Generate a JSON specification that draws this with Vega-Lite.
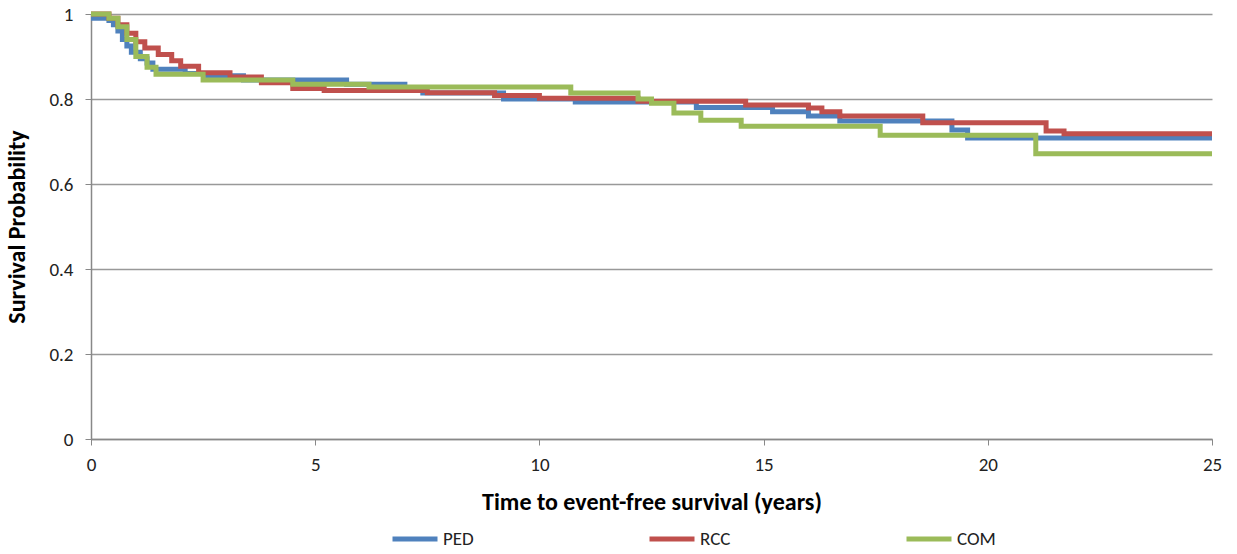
{
  "$schema": "https://vega.github.io/schema/vega-lite/v6.json",
  "width": 1121,
  "height": 425,
  "autosize": {"type": "none"},
  "padding": {"left": 91, "top": 14, "right": 25, "bottom": 115},
  "background": "white",
  "config": {
    "font": "Carlito, Liberation Sans Narrow, Roboto, sans-serif",
    "view": {"stroke": null}
  },
  "data": {
    "values": [
      {"t": 0, "s": 0.99, "g": "PED"},
      {"t": 0.4, "s": 0.985, "g": "PED"},
      {"t": 0.5, "s": 0.975, "g": "PED"},
      {"t": 0.6, "s": 0.96, "g": "PED"},
      {"t": 0.7, "s": 0.94, "g": "PED"},
      {"t": 0.8, "s": 0.925, "g": "PED"},
      {"t": 0.9, "s": 0.91, "g": "PED"},
      {"t": 1.1, "s": 0.895, "g": "PED"},
      {"t": 1.25, "s": 0.885, "g": "PED"},
      {"t": 1.38, "s": 0.87, "g": "PED"},
      {"t": 2.1, "s": 0.86, "g": "PED"},
      {"t": 2.6, "s": 0.855, "g": "PED"},
      {"t": 3.4, "s": 0.845, "g": "PED"},
      {"t": 5.7, "s": 0.835, "g": "PED"},
      {"t": 7.0, "s": 0.825, "g": "PED"},
      {"t": 7.4, "s": 0.814, "g": "PED"},
      {"t": 9.2, "s": 0.80, "g": "PED"},
      {"t": 10.8, "s": 0.793, "g": "PED"},
      {"t": 13.5, "s": 0.78, "g": "PED"},
      {"t": 15.2, "s": 0.77, "g": "PED"},
      {"t": 16.0, "s": 0.76, "g": "PED"},
      {"t": 16.7, "s": 0.748, "g": "PED"},
      {"t": 19.2, "s": 0.727, "g": "PED"},
      {"t": 19.55, "s": 0.708, "g": "PED"},
      {"t": 25, "s": 0.708, "g": "PED"},

      {"t": 0, "s": 1.0, "g": "RCC"},
      {"t": 0.4, "s": 0.99, "g": "RCC"},
      {"t": 0.6, "s": 0.975, "g": "RCC"},
      {"t": 0.8, "s": 0.955, "g": "RCC"},
      {"t": 1.0, "s": 0.935, "g": "RCC"},
      {"t": 1.2, "s": 0.92, "g": "RCC"},
      {"t": 1.5, "s": 0.905, "g": "RCC"},
      {"t": 1.8, "s": 0.89, "g": "RCC"},
      {"t": 2.0, "s": 0.877, "g": "RCC"},
      {"t": 2.4, "s": 0.862, "g": "RCC"},
      {"t": 3.1, "s": 0.852, "g": "RCC"},
      {"t": 3.8, "s": 0.838, "g": "RCC"},
      {"t": 4.5, "s": 0.825, "g": "RCC"},
      {"t": 5.2, "s": 0.82, "g": "RCC"},
      {"t": 7.5, "s": 0.815, "g": "RCC"},
      {"t": 9.0, "s": 0.808, "g": "RCC"},
      {"t": 10.0, "s": 0.802, "g": "RCC"},
      {"t": 12.2, "s": 0.795, "g": "RCC"},
      {"t": 14.6, "s": 0.786, "g": "RCC"},
      {"t": 16.0, "s": 0.779, "g": "RCC"},
      {"t": 16.3, "s": 0.77, "g": "RCC"},
      {"t": 16.7, "s": 0.76, "g": "RCC"},
      {"t": 18.55, "s": 0.744, "g": "RCC"},
      {"t": 21.3, "s": 0.725, "g": "RCC"},
      {"t": 21.7, "s": 0.718, "g": "RCC"},
      {"t": 25, "s": 0.718, "g": "RCC"},

      {"t": 0, "s": 1.0, "g": "COM"},
      {"t": 0.4, "s": 0.99, "g": "COM"},
      {"t": 0.6, "s": 0.97, "g": "COM"},
      {"t": 0.8, "s": 0.94, "g": "COM"},
      {"t": 1.0, "s": 0.9, "g": "COM"},
      {"t": 1.25, "s": 0.875, "g": "COM"},
      {"t": 1.45, "s": 0.858, "g": "COM"},
      {"t": 2.5, "s": 0.845, "g": "COM"},
      {"t": 4.5, "s": 0.835, "g": "COM"},
      {"t": 6.2, "s": 0.828, "g": "COM"},
      {"t": 10.7, "s": 0.814, "g": "COM"},
      {"t": 12.2, "s": 0.80, "g": "COM"},
      {"t": 12.5, "s": 0.79, "g": "COM"},
      {"t": 13.0, "s": 0.767, "g": "COM"},
      {"t": 13.6, "s": 0.75, "g": "COM"},
      {"t": 14.5, "s": 0.736, "g": "COM"},
      {"t": 17.6, "s": 0.715, "g": "COM"},
      {"t": 21.07, "s": 0.671, "g": "COM"},
      {"t": 25, "s": 0.671, "g": "COM"}
    ]
  },
  "mark": {"type": "line", "interpolate": "step-after", "strokeWidth": 5},
  "encoding": {
    "x": {
      "field": "t", "type": "quantitative",
      "scale": {"domain": [0, 25], "nice": false},
      "axis": {
        "values": [0, 5, 10, 15, 20, 25],
        "title": "Time to event-free survival (years)",
        "titleFontSize": 24, "titleFontWeight": "bold", "titleColor": "#000",
        "titlePadding": 16,
        "labelFontSize": 19, "labelColor": "#222", "labelPadding": 10,
        "labelFlush": false,
        "grid": false, "domainColor": "#888", "domainWidth": 1.5,
        "tickColor": "#888", "tickSize": 6
      }
    },
    "y": {
      "field": "s", "type": "quantitative",
      "scale": {"domain": [0, 1], "nice": false},
      "axis": {
        "values": [0, 0.2, 0.4, 0.6, 0.8, 1],
        "title": "Survival Probability",
        "titleFontSize": 24, "titleFontWeight": "bold", "titleColor": "#000",
        "titleX": -62,
        "labelFontSize": 19, "labelColor": "#222", "labelPadding": 12,
        "labelExpr": "datum.value == 0 || datum.value == 1 ? format(datum.value, 'd') : format(datum.value, '.1f')",
        "grid": true, "gridColor": "#999", "gridWidth": 1.5,
        "domainColor": "#888", "domainWidth": 1.5,
        "tickColor": "#888", "tickSize": 6
      }
    },
    "color": {
      "field": "g", "type": "nominal",
      "sort": ["PED", "RCC", "COM"],
      "scale": {"domain": ["PED", "RCC", "COM"], "range": ["#4F81BD", "#C0504D", "#9BBB59"]},
      "legend": {
        "title": null,
        "orient": "none",
        "direction": "horizontal",
        "legendX": 299,
        "legendY": 500,
        "symbolType": "stroke",
        "symbolSize": 2025,
        "symbolStrokeWidth": 5,
        "labelFontSize": 19,
        "labelColor": "#222",
        "labelOffset": 3,
        "columnPadding": 165,
        "padding": 0
      }
    }
  }
}
